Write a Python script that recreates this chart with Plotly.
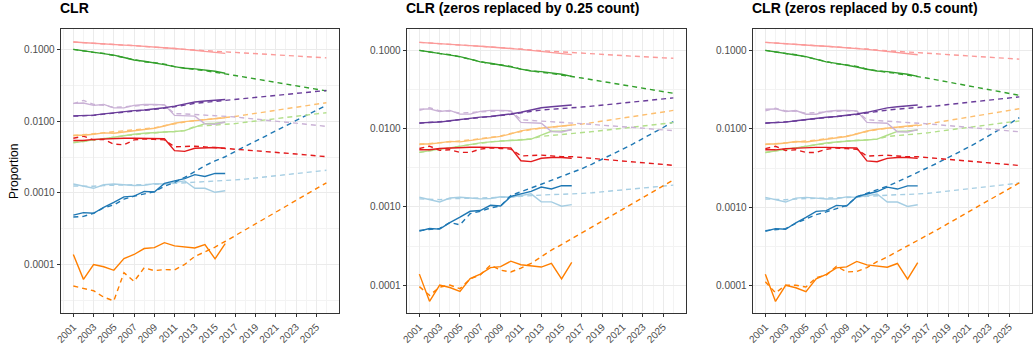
import plotly.graph_objects as go

years_obs = list(range(2001, 2017))
years_fit = list(range(2001, 2027))

# observed proportions (same in all three panels)
obs_pink = [0.128, 0.125, 0.123, 0.121, 0.119, 0.116, 0.114, 0.112, 0.110, 0.108, 0.104, 0.101, 0.098, 0.095, 0.092, 0.089]
obs_green = [0.101, 0.097, 0.093, 0.088, 0.084, 0.078, 0.072, 0.069, 0.066, 0.062, 0.058, 0.055, 0.054, 0.052, 0.050, 0.047]
obs_purple = [0.0119, 0.0120, 0.0122, 0.0127, 0.0132, 0.0136, 0.0141, 0.0144, 0.0148, 0.0155, 0.0163, 0.0176, 0.0186, 0.0192, 0.0196, 0.0202]
obs_lightpurple = [0.0178, 0.0180, 0.0167, 0.0172, 0.0154, 0.0154, 0.0167, 0.0172, 0.0172, 0.0170, 0.0121, 0.0120, 0.0118, 0.0092, 0.0091, 0.0098]
obs_lightorange = [0.0064, 0.0064, 0.0066, 0.0069, 0.0068, 0.0071, 0.0074, 0.0078, 0.0080, 0.0086, 0.0094, 0.0099, 0.0102, 0.0105, 0.0108, 0.0112]
obs_lightgreen = [0.0050, 0.0053, 0.0055, 0.0057, 0.0060, 0.0063, 0.0066, 0.0068, 0.0070, 0.0071, 0.0072, 0.0074, 0.0083, 0.0093, 0.0094, 0.0097]
obs_red = [0.0054, 0.0054, 0.0056, 0.0057, 0.0058, 0.0058, 0.0058, 0.0058, 0.0058, 0.0057, 0.0039, 0.0038, 0.0042, 0.0043, 0.0043, 0.0042]
obs_lightblue = [0.00133, 0.00123, 0.00116, 0.00130, 0.00133, 0.00130, 0.00127, 0.00128, 0.00135, 0.00133, 0.00140, 0.00147, 0.00116, 0.00116, 0.00102, 0.00107]
obs_blue = [0.00049, 0.00053, 0.00052, 0.00063, 0.00074, 0.00088, 0.00090, 0.00105, 0.00103, 0.00136, 0.00147, 0.00158, 0.00180, 0.00170, 0.00187, 0.00187]
obs_orange = [0.000138, 0.000062, 0.000100, 0.000093, 0.000083, 0.000121, 0.000138, 0.000167, 0.000172, 0.000202, 0.000182, 0.000176, 0.000170, 0.000190, 0.000120, 0.000195]

# fitted / projected, panel 1: CLR
clr_pink = [0.128, 0.125, 0.123, 0.121, 0.118, 0.116, 0.114, 0.112, 0.110, 0.107, 0.104, 0.101, 0.099, 0.097, 0.095, 0.094,
            0.092, 0.090, 0.089, 0.087, 0.085, 0.084, 0.082, 0.080, 0.079, 0.077]
clr_green = [0.101, 0.096, 0.092, 0.089, 0.083, 0.079, 0.073, 0.068, 0.066, 0.063, 0.058, 0.055, 0.053, 0.051, 0.049, 0.046,
             0.0436, 0.0413, 0.0391, 0.0370, 0.0350, 0.0331, 0.0314, 0.0297, 0.0281, 0.0266]
clr_purple = [0.0118, 0.0119, 0.0121, 0.0126, 0.0131, 0.0136, 0.0139, 0.0142, 0.0146, 0.0153, 0.0160, 0.0170, 0.0178, 0.0184, 0.0190, 0.0196,
              0.0203, 0.0209, 0.0216, 0.0223, 0.0230, 0.0237, 0.0245, 0.0253, 0.0261, 0.0270]
clr_lightpurple = [0.0177, 0.0196, 0.0172, 0.0168, 0.0156, 0.0160, 0.0164, 0.0170, 0.0171, 0.0170, 0.0128, 0.0127, 0.0125, 0.0123, 0.0121, 0.0119,
                   0.0115, 0.0111, 0.0107, 0.0104, 0.0100, 0.0097, 0.0094, 0.0091, 0.0088, 0.0085]
clr_lightorange = [0.0063, 0.0065, 0.0067, 0.0068, 0.0070, 0.0072, 0.0075, 0.0078, 0.0081, 0.0087, 0.0093, 0.0098, 0.0102, 0.0105, 0.0108, 0.0111,
                   0.0117, 0.0123, 0.0129, 0.0135, 0.0142, 0.0149, 0.0157, 0.0165, 0.0173, 0.0182]
clr_lightgreen = [0.0051, 0.0052, 0.0055, 0.0057, 0.0060, 0.0063, 0.0065, 0.0068, 0.0070, 0.0071, 0.0072, 0.0074, 0.0085, 0.0087, 0.0088, 0.0090,
                  0.0093, 0.0097, 0.0101, 0.0105, 0.0109, 0.0113, 0.0117, 0.0122, 0.0127, 0.0132]
clr_red = [0.0058, 0.0062, 0.0055, 0.0056, 0.0048, 0.0047, 0.0055, 0.0057, 0.0056, 0.0055, 0.0044, 0.0045, 0.0045, 0.0044, 0.0043, 0.0042,
           0.0041, 0.0040, 0.0039, 0.0038, 0.0037, 0.0036, 0.0035, 0.0034, 0.0033, 0.0032]
clr_lightblue = [0.00125, 0.00124, 0.00124, 0.00127, 0.00128, 0.00128, 0.00128, 0.00130, 0.00131, 0.00133, 0.00136, 0.00138, 0.00141, 0.00143, 0.00145, 0.00148,
                 0.00152, 0.00156, 0.00161, 0.00167, 0.00173, 0.00179, 0.00186, 0.00193, 0.00200, 0.00207]
clr_blue = [0.00046, 0.00047, 0.00052, 0.00062, 0.00068, 0.00082, 0.00090, 0.00096, 0.00104, 0.00124, 0.00140, 0.00165, 0.00200, 0.00240, 0.00280, 0.00320,
            0.00380, 0.00448, 0.00529, 0.00624, 0.00737, 0.00870, 0.0103, 0.0121, 0.0143, 0.0168]
clr_orange = [0.000050, 0.000046, 0.000043, 0.000035, 0.000031, 0.000077, 0.000058, 0.000090, 0.000082, 0.000085, 0.000084, 0.000100, 0.000130, 0.000150, 0.000175, 0.000210,
              0.000253, 0.000306, 0.000369, 0.000445, 0.000537, 0.000648, 0.000782, 0.000944, 0.00114, 0.00138]

# panel 2: zeros replaced by 0.25 count
z25_pink = [0.128, 0.125, 0.123, 0.121, 0.118, 0.116, 0.114, 0.112, 0.110, 0.107, 0.105, 0.102, 0.100, 0.098, 0.096, 0.095,
            0.093, 0.092, 0.090, 0.088, 0.087, 0.085, 0.084, 0.082, 0.081, 0.080]
z25_green = [0.101, 0.096, 0.092, 0.089, 0.083, 0.079, 0.073, 0.068, 0.066, 0.063, 0.058, 0.055, 0.053, 0.051, 0.049, 0.047,
             0.0447, 0.0425, 0.0404, 0.0385, 0.0366, 0.0348, 0.0331, 0.0315, 0.0299, 0.0285]
z25_purple = [0.0118, 0.0120, 0.0122, 0.0126, 0.0131, 0.0135, 0.0138, 0.0143, 0.0148, 0.0153, 0.0160, 0.0168, 0.0174, 0.0178, 0.0181, 0.0184,
              0.0190, 0.0195, 0.0201, 0.0208, 0.0214, 0.0221, 0.0227, 0.0234, 0.0242, 0.0249]
z25_lightpurple = [0.0172, 0.0186, 0.0170, 0.0168, 0.0159, 0.0162, 0.0165, 0.0170, 0.0171, 0.0168, 0.0131, 0.0128, 0.0126, 0.0123, 0.0121, 0.0119,
                   0.0116, 0.0114, 0.0111, 0.0109, 0.0106, 0.0104, 0.0102, 0.0099, 0.0097, 0.0095]
z25_lightorange = [0.0063, 0.0065, 0.0067, 0.0068, 0.0070, 0.0072, 0.0075, 0.0078, 0.0081, 0.0087, 0.0093, 0.0098, 0.0102, 0.0105, 0.0108, 0.0110,
                   0.0115, 0.0120, 0.0126, 0.0132, 0.0138, 0.0144, 0.0150, 0.0157, 0.0164, 0.0172]
z25_lightgreen = [0.0050, 0.0052, 0.0055, 0.0057, 0.0060, 0.0063, 0.0065, 0.0068, 0.0070, 0.0071, 0.0072, 0.0074, 0.0080, 0.0082, 0.0084, 0.0086,
                  0.0089, 0.0092, 0.0095, 0.0098, 0.0101, 0.0105, 0.0108, 0.0112, 0.0116, 0.0120]
z25_red = [0.0056, 0.0060, 0.0053, 0.0054, 0.0050, 0.0050, 0.0055, 0.0057, 0.0056, 0.0055, 0.0045, 0.0046, 0.0046, 0.0045, 0.0044, 0.0044,
           0.0043, 0.0042, 0.0041, 0.0040, 0.0039, 0.0038, 0.0037, 0.0036, 0.0035, 0.0034]
z25_lightblue = [0.00127, 0.00125, 0.00124, 0.00127, 0.00128, 0.00128, 0.00128, 0.00130, 0.00132, 0.00134, 0.00137, 0.00140, 0.00142, 0.00144, 0.00145, 0.00146,
                 0.00149, 0.00152, 0.00156, 0.00160, 0.00164, 0.00168, 0.00173, 0.00178, 0.00184, 0.00190]
z25_blue = [0.00050, 0.00052, 0.00053, 0.00063, 0.00059, 0.00082, 0.00088, 0.00097, 0.00103, 0.00140, 0.00155, 0.00175, 0.00195, 0.00218, 0.00245, 0.00275,
            0.00309, 0.00354, 0.00407, 0.00471, 0.00547, 0.00638, 0.00748, 0.00881, 0.0104, 0.0124]
z25_orange = [0.0000955, 0.000074, 0.000094, 0.000100, 0.000090, 0.000120, 0.000135, 0.000180, 0.000155, 0.000147, 0.000165, 0.000190, 0.000230, 0.000280, 0.000330, 0.000390,
              0.000464, 0.000552, 0.000657, 0.000782, 0.000930, 0.00111, 0.00132, 0.00157, 0.00187, 0.00222]

# panel 3: zeros replaced by 0.5 count
z50_pink = [0.128, 0.125, 0.123, 0.121, 0.118, 0.116, 0.114, 0.112, 0.110, 0.107, 0.105, 0.102, 0.100, 0.098, 0.096, 0.095,
            0.093, 0.091, 0.089, 0.088, 0.086, 0.084, 0.083, 0.081, 0.080, 0.078]
z50_green = [0.101, 0.096, 0.092, 0.089, 0.083, 0.079, 0.073, 0.068, 0.066, 0.063, 0.058, 0.055, 0.053, 0.051, 0.049, 0.047,
             0.0445, 0.0420, 0.0397, 0.0376, 0.0355, 0.0336, 0.0318, 0.0300, 0.0284, 0.0269]
z50_purple = [0.0118, 0.0120, 0.0122, 0.0126, 0.0131, 0.0135, 0.0138, 0.0143, 0.0148, 0.0153, 0.0160, 0.0168, 0.0174, 0.0179, 0.0183, 0.0186,
              0.0192, 0.0198, 0.0205, 0.0212, 0.0219, 0.0226, 0.0233, 0.0241, 0.0249, 0.0257]
z50_lightpurple = [0.0170, 0.0184, 0.0170, 0.0168, 0.0159, 0.0162, 0.0165, 0.0170, 0.0171, 0.0168, 0.0131, 0.0128, 0.0126, 0.0123, 0.0121, 0.0119,
                   0.0116, 0.0113, 0.0110, 0.0108, 0.0105, 0.0102, 0.0100, 0.0097, 0.0095, 0.0092]
z50_lightorange = [0.0063, 0.0065, 0.0067, 0.0068, 0.0070, 0.0072, 0.0075, 0.0078, 0.0081, 0.0087, 0.0093, 0.0098, 0.0102, 0.0105, 0.0108, 0.0110,
                   0.0116, 0.0122, 0.0128, 0.0134, 0.0141, 0.0148, 0.0156, 0.0164, 0.0172, 0.0181]
z50_lightgreen = [0.0050, 0.0052, 0.0055, 0.0057, 0.0060, 0.0063, 0.0065, 0.0068, 0.0070, 0.0071, 0.0072, 0.0074, 0.0080, 0.0082, 0.0084, 0.0086,
                  0.0089, 0.0093, 0.0097, 0.0101, 0.0105, 0.0109, 0.0113, 0.0117, 0.0122, 0.0126]
z50_red = [0.0056, 0.0060, 0.0053, 0.0054, 0.0050, 0.0050, 0.0055, 0.0057, 0.0056, 0.0055, 0.0045, 0.0046, 0.0046, 0.0045, 0.0044, 0.0044,
           0.0043, 0.0042, 0.0041, 0.0040, 0.0039, 0.0038, 0.0037, 0.0036, 0.0035, 0.0034]
z50_lightblue = [0.00127, 0.00125, 0.00124, 0.00127, 0.00128, 0.00128, 0.00128, 0.00130, 0.00132, 0.00134, 0.00137, 0.00140, 0.00142, 0.00144, 0.00145, 0.00146,
                 0.00150, 0.00155, 0.00160, 0.00165, 0.00170, 0.00176, 0.00183, 0.00189, 0.00196, 0.00204]
z50_blue = [0.00050, 0.00052, 0.00053, 0.00062, 0.00070, 0.00080, 0.00087, 0.00095, 0.00105, 0.00135, 0.00150, 0.00165, 0.00185, 0.00210, 0.00240, 0.00280,
            0.00320, 0.00369, 0.00428, 0.00498, 0.00583, 0.00687, 0.00813, 0.00966, 0.0116, 0.0139]
z50_orange = [0.000111, 0.000080, 0.000100, 0.000100, 0.000095, 0.000125, 0.000135, 0.000175, 0.000148, 0.000150, 0.000168, 0.000200, 0.000230, 0.000270, 0.000320, 0.000370,
              0.000439, 0.000520, 0.000617, 0.000732, 0.000868, 0.00103, 0.00122, 0.00145, 0.00172, 0.00204]

titles = ["CLR", "CLR (zeros replaced by 0.25 count)", "CLR (zeros replaced by 0.5 count)"]
ytick_vals = [0.0001, 0.001, 0.01, 0.1]
ytick_text = ["0.0001", "0.0010", "0.0100", "0.1000"]
xtick_vals = list(range(2001, 2026, 2))

colours = {"lightblue": "#A6CEE3", "blue": "#1F78B4", "lightgreen": "#B2DF8A", "green": "#33A02C",
           "pink": "#FB9A99", "red": "#E31A1C", "lightorange": "#FDBF6F", "orange": "#FF7F00",
           "lightpurple": "#CAB2D6", "purple": "#6A3D9A"}

observed = {"lightblue": obs_lightblue, "blue": obs_blue, "lightgreen": obs_lightgreen, "green": obs_green,
            "pink": obs_pink, "red": obs_red, "lightorange": obs_lightorange, "orange": obs_orange,
            "lightpurple": obs_lightpurple, "purple": obs_purple}
fitted = [
    {"lightblue": clr_lightblue, "blue": clr_blue, "lightgreen": clr_lightgreen, "green": clr_green,
     "pink": clr_pink, "red": clr_red, "lightorange": clr_lightorange, "orange": clr_orange,
     "lightpurple": clr_lightpurple, "purple": clr_purple},
    {"lightblue": z25_lightblue, "blue": z25_blue, "lightgreen": z25_lightgreen, "green": z25_green,
     "pink": z25_pink, "red": z25_red, "lightorange": z25_lightorange, "orange": z25_orange,
     "lightpurple": z25_lightpurple, "purple": z25_purple},
    {"lightblue": z50_lightblue, "blue": z50_blue, "lightgreen": z50_lightgreen, "green": z50_green,
     "pink": z50_pink, "red": z50_red, "lightorange": z50_lightorange, "orange": z50_orange,
     "lightpurple": z50_lightpurple, "purple": z50_purple},
]

W, H = 1034, 345
x_dom = [(55, 335), (403, 684), (751, 1032)]
y_dom = [(H - 315) / H, (H - 29) / H]
y_ranges = [[-4.68, -0.708], [-4.36, -0.72], [-4.357, -0.72]]

fig = go.Figure()
for i in range(3):
    ax = "" if i == 0 else str(i + 1)
    for name, col in colours.items():
        fig.add_trace(go.Scatter(x=years_obs, y=observed[name], mode="lines",
                                 line=dict(color=col, width=1.4),
                                 xaxis="x" + ax, yaxis="y" + ax, showlegend=False))
        fig.add_trace(go.Scatter(x=years_fit, y=fitted[i][name], mode="lines",
                                 line=dict(color=col, width=1.4, dash="5px,4px"),
                                 xaxis="x" + ax, yaxis="y" + ax, showlegend=False))

    fig.layout["xaxis" + ax] = dict(
        domain=[x_dom[i][0] / W, x_dom[i][1] / W], anchor="y" + ax,
        range=[1999.75, 2027.25], tickvals=xtick_vals, ticktext=[str(v) for v in xtick_vals],
        tickangle=-45, ticks="outside", ticklen=3, tickcolor="#333333",
        tickfont=dict(size=10, color="#4D4D4D"),
        showgrid=True, gridcolor="#EBEBEB", gridwidth=1,
        minor=dict(tickvals=list(range(2000, 2028, 2)), showgrid=True, gridcolor="#F3F3F3", gridwidth=0.6, ticks=""),
        showline=True, linecolor="#333333", linewidth=1, mirror=True, zeroline=False)
    fig.layout["yaxis" + ax] = dict(
        domain=y_dom, anchor="x" + ax, type="log", range=y_ranges[i],
        tickvals=ytick_vals, ticktext=ytick_text, ticks="outside", ticklen=3, tickcolor="#333333",
        tickfont=dict(size=10, color="#4D4D4D"),
        showgrid=True, gridcolor="#EBEBEB", gridwidth=1,
        minor=dict(tickvals=[0.0000316, 0.000316, 0.00316, 0.0316], showgrid=True,
                   gridcolor="#F3F3F3", gridwidth=0.6, ticks=""),
        showline=True, linecolor="#333333", linewidth=1, mirror=True, zeroline=False)
    fig.add_annotation(text="<b>" + titles[i] + "</b>", xref="paper", yref="paper",
                       x=(x_dom[i][0] - 3) / W, y=1, xanchor="left", yanchor="top", yshift=2,
                       showarrow=False, font=dict(size=14, color="black"))

fig.add_annotation(text="Proportion", xref="paper", yref="paper", x=8 / W, y=(H - 172) / H,
                   xanchor="center", yanchor="middle", textangle=-90, showarrow=False,
                   font=dict(size=12, color="black"))

fig.update_layout(width=W, height=H, margin=dict(l=0, r=0, t=0, b=0),
                  paper_bgcolor="white", plot_bgcolor="white",
                  font=dict(family="Liberation Sans, Arial, sans-serif"))
fig.write_html("out.html", config={"displayModeBar": False},
               post_script="document.body.style.margin = '0px';")
